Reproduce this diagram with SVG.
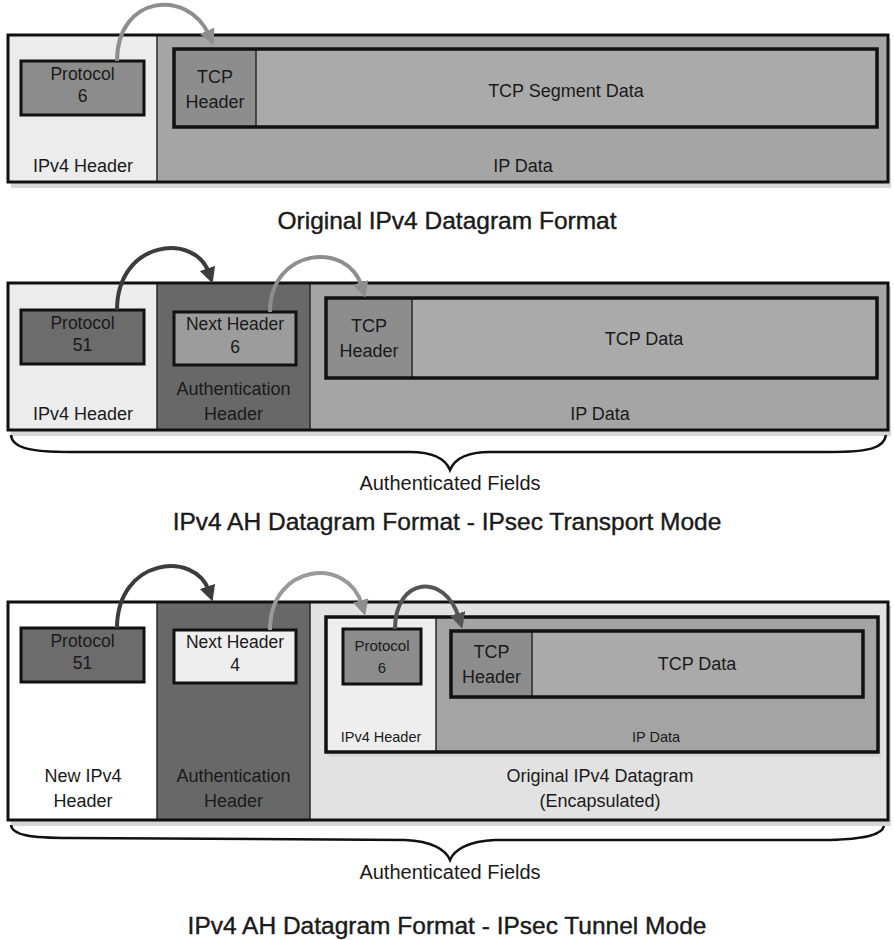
<svg xmlns="http://www.w3.org/2000/svg" width="894" height="940" viewBox="0 0 894 940">
<defs>
<style>
text{font-family:"Liberation Sans",Arial,sans-serif;fill:#1a1a1a;text-anchor:middle}
.lbl{font-size:18px}
.af{font-size:20px}
.box{font-size:17.5px}
.sm{font-size:15px}
.xs{font-size:14.5px}
.title{font-size:24.5px;stroke:#1a1a1a;stroke-width:0.4}
.outer{fill:none;stroke:#111;stroke-width:3}
.inner{fill:none;stroke:#111;stroke-width:3.5}
.pbox{stroke:#111;stroke-width:3}
.div{stroke:#2a2a2a;stroke-width:1.5}
.shadow{fill:#d6d6d6}
.arr{fill:none;stroke-width:4}
.brace{fill:none;stroke:#111;stroke-width:2.5}
</style>
<marker id="hd-dark" viewBox="0 0 10 10" refX="3" refY="5" markerWidth="16" markerHeight="16" markerUnits="userSpaceOnUse" orient="auto"><path d="M0,0 L10,5 L0,10 z" fill="#3c3c3c"/></marker>
<marker id="hd-mid" viewBox="0 0 10 10" refX="3" refY="5" markerWidth="16" markerHeight="16" markerUnits="userSpaceOnUse" orient="auto"><path d="M0,0 L10,5 L0,10 z" fill="#555555"/></marker>
<marker id="hd-light" viewBox="0 0 10 10" refX="3" refY="5" markerWidth="16" markerHeight="16" markerUnits="userSpaceOnUse" orient="auto"><path d="M0,0 L10,5 L0,10 z" fill="#8e8e8e"/></marker>
</defs>
<rect width="894" height="940" fill="#ffffff"/>

<!-- ===== Section 1: Original IPv4 Datagram ===== -->
<g id="s1-datagram">
<rect class="shadow" x="11" y="39" width="880" height="149"/>
<rect x="8" y="35" width="149" height="147" fill="#ececec"/>
<rect x="157" y="35" width="731" height="147" fill="#a5a5a5"/>
<line class="div" x1="157" y1="35" x2="157" y2="182"/>
<rect class="outer" x="8" y="35" width="880" height="147"/>
</g>
<g id="s1-ipv4-header"><text class="lbl" x="83" y="172">IPv4 Header</text></g>
<g id="s1-protocol">
<rect class="pbox" x="21" y="61" width="123" height="54" fill="#8c8c8c"/>
<text class="box" x="82.5" y="80">Protocol</text>
<text class="box" x="82.5" y="102">6</text>
</g>
<g id="s1-ip-data"><text class="lbl" x="523" y="172">IP Data</text></g>
<g id="s1-tcp">
<rect x="174" y="49" width="703" height="78" fill="#aaaaaa"/>
<rect x="174" y="49" width="82" height="78" fill="#8d8d8d"/>
<line class="div" x1="256" y1="49" x2="256" y2="127"/>
<rect class="inner" x="174" y="49" width="703" height="78"/>
<text class="lbl" x="215" y="83">TCP</text>
<text class="lbl" x="215" y="108">Header</text>
<text class="lbl" x="566" y="97">TCP Segment Data</text>
</g>
<g id="s1-title"><text class="title" x="447" y="229">Original IPv4 Datagram Format</text></g>

<!-- ===== Section 2: Transport Mode ===== -->
<g id="s2-datagram">
<rect class="shadow" x="11" y="287" width="880" height="149"/>
<rect x="8" y="283" width="149" height="147" fill="#ececec"/>
<rect x="157" y="283" width="153" height="147" fill="#686868"/>
<rect x="310" y="283" width="578" height="147" fill="#a5a5a5"/>
<line class="div" x1="157" y1="283" x2="157" y2="430"/>
<line class="div" x1="310" y1="283" x2="310" y2="430"/>
<rect class="outer" x="8" y="283" width="880" height="147"/>
</g>
<g id="s2-ipv4-header"><text class="lbl" x="83" y="420">IPv4 Header</text></g>
<g id="s2-protocol">
<rect class="pbox" x="21" y="310" width="123" height="54" fill="#6c6c6c"/>
<text class="box" x="82.5" y="329">Protocol</text>
<text class="box" x="82.5" y="351">51</text>
</g>
<g id="s2-auth-header">
<text class="lbl" x="233.5" y="395">Authentication</text>
<text class="lbl" x="233.5" y="420">Header</text>
</g>
<g id="s2-next-header">
<rect class="pbox" x="174" y="312" width="122" height="53" fill="#9c9c9c"/>
<text class="box" x="235" y="330">Next Header</text>
<text class="box" x="235" y="353">6</text>
</g>
<g id="s2-ip-data"><text class="lbl" x="600" y="420">IP Data</text></g>
<g id="s2-tcp">
<rect x="326" y="298" width="551" height="80" fill="#aaaaaa"/>
<rect x="326" y="298" width="86" height="80" fill="#8d8d8d"/>
<line class="div" x1="412" y1="298" x2="412" y2="378"/>
<rect class="inner" x="326" y="298" width="551" height="80"/>
<text class="lbl" x="369" y="332">TCP</text>
<text class="lbl" x="369" y="357">Header</text>
<text class="lbl" x="644" y="345">TCP Data</text>
</g>
<g id="s2-auth-fields"><text class="af" x="450" y="490">Authenticated Fields</text></g>
<g id="s2-title"><text class="title" x="447" y="530">IPv4 AH Datagram Format - IPsec Transport Mode</text></g>

<!-- ===== Section 3: Tunnel Mode ===== -->
<g id="s3-datagram">
<rect class="shadow" x="11" y="606" width="880" height="220"/>
<rect x="8" y="602" width="149" height="218" fill="#ffffff"/>
<rect x="157" y="602" width="153" height="218" fill="#686868"/>
<rect x="310" y="602" width="578" height="218" fill="#e2e2e2"/>
<line class="div" x1="157" y1="602" x2="157" y2="820"/>
<line class="div" x1="310" y1="602" x2="310" y2="820"/>
<rect class="outer" x="8" y="602" width="880" height="218"/>
</g>
<g id="s3-new-ipv4-header">
<text class="lbl" x="83" y="782">New IPv4</text>
<text class="lbl" x="83" y="807">Header</text>
</g>
<g id="s3-protocol">
<rect class="pbox" x="21" y="628" width="123" height="54" fill="#6c6c6c"/>
<text class="box" x="82.5" y="647">Protocol</text>
<text class="box" x="82.5" y="669">51</text>
</g>
<g id="s3-auth-header">
<text class="lbl" x="233.5" y="782">Authentication</text>
<text class="lbl" x="233.5" y="807">Header</text>
</g>
<g id="s3-next-header">
<rect class="pbox" x="174" y="630" width="122" height="53" fill="#eeeeee"/>
<text class="box" x="235" y="648">Next Header</text>
<text class="box" x="235" y="671">4</text>
</g>
<g id="s3-original-datagram">
<rect class="shadow" x="329" y="621" width="552" height="136"/>
<rect x="326" y="617" width="110" height="135" fill="#eeeeee"/>
<rect x="436" y="617" width="442" height="135" fill="#a4a4a4"/>
<line class="div" x1="436" y1="617" x2="436" y2="752"/>
<rect class="inner" x="326" y="617" width="552" height="135"/>
<text class="lbl" x="600" y="782">Original IPv4 Datagram</text>
<text class="lbl" x="600" y="807">(Encapsulated)</text>
</g>
<g id="s3-inner-ipv4-header"><text class="xs" x="381" y="742">IPv4 Header</text></g>
<g id="s3-inner-protocol">
<rect class="pbox" x="343" y="629" width="78" height="55" fill="#8c8c8c"/>
<text class="sm" x="382" y="651">Protocol</text>
<text class="sm" x="382" y="673">6</text>
</g>
<g id="s3-inner-ip-data"><text class="xs" x="656" y="742">IP Data</text></g>
<g id="s3-tcp">
<rect x="451" y="631" width="412" height="66" fill="#aaaaaa"/>
<rect x="451" y="631" width="81" height="66" fill="#8d8d8d"/>
<line class="div" x1="532" y1="631" x2="532" y2="697"/>
<rect class="inner" x="451" y="631" width="412" height="66"/>
<text class="lbl" x="491.5" y="658">TCP</text>
<text class="lbl" x="491.5" y="683">Header</text>
<text class="lbl" x="697" y="670">TCP Data</text>
</g>
<g id="s3-auth-fields"><text class="af" x="450" y="879">Authenticated Fields</text></g>
<g id="s3-title"><text class="title" x="447" y="934">IPv4 AH Datagram Format - IPsec Tunnel Mode</text></g>

<!-- ===== Connectors ===== -->
<g id="connectors">
<path class="arr" stroke="#8e8e8e" marker-end="url(#hd-light)" d="M117,61 C117,-5 188,-12 209,35"/>
<path class="arr" stroke="#3c3c3c" marker-end="url(#hd-dark)" d="M117,310 C117,240 195,232 209,273"/>
<path class="arr" stroke="#8e8e8e" marker-end="url(#hd-light)" d="M270,312 C270,248 348,240 362,287"/>
<path class="arr" stroke="#3c3c3c" marker-end="url(#hd-dark)" d="M117,628 C117,558 195,550 209,591"/>
<path class="arr" stroke="#9a9a9a" marker-end="url(#hd-light)" d="M270,630 C270,563 348,556 362,605"/>
<path class="arr" stroke="#555555" marker-end="url(#hd-mid)" d="M395,629 C395,577 445,572 459,618"/>
</g>
<g id="braces">
<path class="brace" d="M11,435 C12,448 30,452 70,452 L410,452 C435,452 446,460 450,470 C454,460 465,452 490,452 L830,452 C870,452 884,448 886,435"/>
<path class="brace" d="M11,825 C12,835 30,838 70,838 L405,840 C432,841 446,850 450,860 C454,850 468,841 495,840 L830,840 C868,839 882,834 884,826"/>
</g>
</svg>
